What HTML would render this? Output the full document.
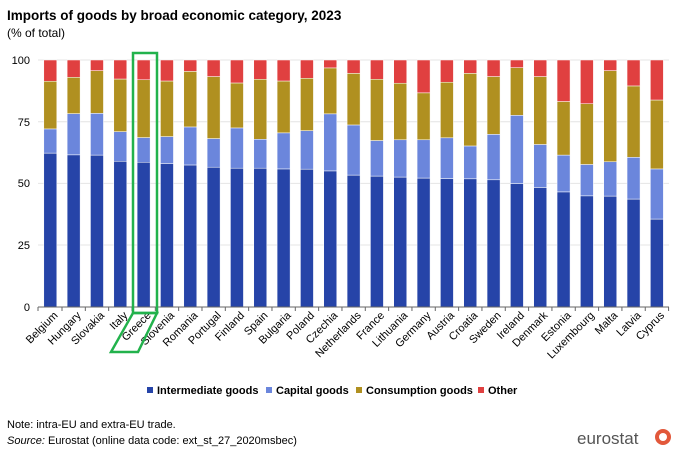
<!DOCTYPE html>
<html><head><meta charset="utf-8"><style>
body{margin:0;background:#fff;}
svg{display:block;font-family:"Liberation Sans",Arial,sans-serif;}
</style></head><body>
<svg width="680" height="452" viewBox="0 0 680 452" xmlns="http://www.w3.org/2000/svg">
<text x="7" y="20" font-size="13.5" font-weight="bold" fill="#000">Imports of goods by broad economic category, 2023</text>
<text x="7" y="37" font-size="12" fill="#000">(% of total)</text>
<g stroke="#e4e4e4" stroke-width="1">
<line x1="38" y1="60" x2="669" y2="60"/><line x1="38" y1="121.7" x2="669" y2="121.7"/><line x1="38" y1="183.4" x2="669" y2="183.4"/><line x1="38" y1="245" x2="669" y2="245"/>
</g>
<g font-size="11" text-anchor="end" fill="#000">
<text x="30" y="64">100</text><text x="30" y="126">75</text><text x="30" y="187">50</text><text x="30" y="249">25</text><text x="30" y="311">0</text>
</g>
<g id="bars"></g>
<line x1="38" y1="307" x2="669" y2="307" stroke="#666"/>
<g id="ticks" stroke="#666"></g>
<g id="labels" font-size="11" fill="#000"></g>
<g fill="none" stroke="#22b24c" stroke-width="2.5">
<rect x="133" y="53" width="24" height="260"/>
<polygon points="133,313 157,313 138,352 111,352"/>
</g>
<g font-size="11" font-weight="bold" fill="#000">
<rect x="147" y="387" width="6" height="6" fill="#2644a8"/><text x="157" y="394">Intermediate goods</text>
<rect x="266" y="387" width="6" height="6" fill="#6b86dc"/><text x="276" y="394">Capital goods</text>
<rect x="356" y="387" width="6" height="6" fill="#b09020"/><text x="366" y="394">Consumption goods</text>
<rect x="478" y="387" width="6" height="6" fill="#e04040"/><text x="488" y="394">Other</text>
</g>
<text x="7" y="428" font-size="11" fill="#000">Note: intra-EU and extra-EU trade.</text>
<text x="7" y="444" font-size="11" fill="#000"><tspan font-style="italic">Source:</tspan> Eurostat (online data code: ext_st_27_2020msbec)</text>
<text x="577" y="444" font-size="17" fill="#555">eurostat</text>
<circle cx="663" cy="437" r="8" fill="#e2583b"/>
<circle cx="663" cy="437" r="4" fill="#fff"/>
<script>
var d=[["Belgium",62.3,72.1,91.4],["Hungary",61.6,78.3,93.0],["Slovakia",61.5,78.4,95.7],["Italy",59.0,71.0,92.3],["Greece",58.6,68.6,92.0],["Slovenia",58.1,69.0,91.5],["Romania",57.5,72.9,95.4],["Portugal",56.6,68.2,93.3],["Finland",56.2,72.5,90.7],["Spain",56.2,67.9,92.2],["Bulgaria",55.9,70.5,91.5],["Poland",55.8,71.4,92.6],["Czechia",55.1,78.2,96.8],["Netherlands",53.4,73.7,94.6],["France",53.0,67.4,92.2],["Lithuania",52.6,67.7,90.6],["Germany",52.2,67.7,86.7],["Austria",52.0,68.5,91.0],["Croatia",51.9,65.2,94.6],["Sweden",51.5,69.9,93.3],["Ireland",50.0,77.6,96.9],["Denmark",48.4,65.8,93.3],["Estonia",46.6,61.5,83.2],["Luxembourg",45.0,57.7,82.3],["Malta",44.9,58.8,95.7],["Latvia",43.7,60.6,89.5],["Cyprus",35.6,55.9,83.8]];
var ns="http://www.w3.org/2000/svg",B=document.getElementById("bars"),T=document.getElementById("ticks"),L=document.getElementById("labels");
function y(v){return 307-v*2.47;}
function el(p,t,a,tx){var e=document.createElementNS(ns,t);for(var k in a)e.setAttribute(k,a[k]);if(tx)e.textContent=tx;p.appendChild(e);}
var cols=["#2644a8","#6b86dc","#b09020","#e04040"];
d.forEach(function(r,i){var cx=50.3+23.33*i,x=cx-6.5;var v=[0,r[1],r[2],r[3],100];
for(var j=0;j<4;j++){el(B,"rect",{x:x,y:y(v[j+1]),width:13,height:y(v[j])-y(v[j+1]),fill:cols[j],stroke:"#fff","stroke-width":0.5});}
el(T,"line",{x1:cx+11.7,y1:307,x2:cx+11.7,y2:311});
el(L,"text",{x:0,y:0,"text-anchor":"end",transform:"translate("+(cx+8)+",316) rotate(-45)"},r[0]);});
el(T,"line",{x1:38,y1:307,x2:38,y2:311});
</script>
</svg>
</body></html>
